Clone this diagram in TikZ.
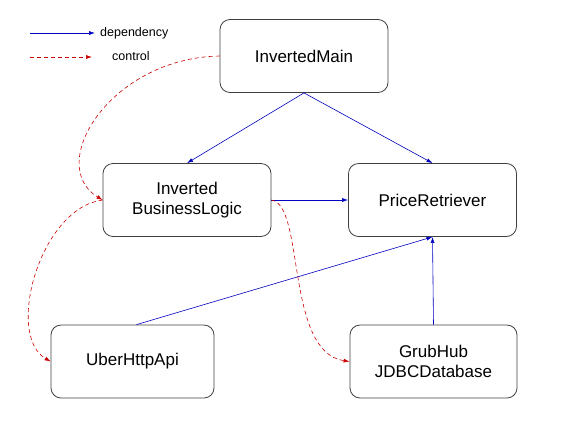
\documentclass[tikz,border=0pt]{standalone}
\usepackage{fontspec}
\setmainfont{Liberation Sans}
\usetikzlibrary{positioning,arrows.meta}

\begin{document}
\begin{tikzpicture}[x=1pt,y=-1pt,
  box/.style={draw=black!75,thick,rounded corners=10pt,minimum width=168pt,minimum height=73pt,
    align=center,font=\fontsize{17}{20}\selectfont,inner sep=0pt},
  dep/.style={draw=blue!75!black,semithick,-{Latex[length=6pt,width=4pt]}},
  ctl/.style={draw=red!80!black,semithick,dashed,dash pattern=on 4pt off 3pt,-{Latex[length=6pt,width=4pt]}},
  lab/.style={font=\fontsize{12.5}{14}\selectfont,anchor=west,inner sep=0pt}]
\useasboundingbox (0,0) rectangle (572,429);
% legend
\coordinate (d1) at (30,33); \coordinate (d2) at (95,33);
\coordinate (c1) at (30,57); \coordinate (c2) at (92,57);
\draw[dep] (d1)--(d2);
\node[lab] (ldep) at (100,33) {dependency};
\draw[ctl] (c1)--(c2);
\node[lab] (lctl) at (112,56) {control};
% boxes
\node[box] (main) at (304,56) {InvertedMain};
\node[box] (logic) at (187,200) {Inverted\\BusinessLogic};
\node[box] (price) at (432.5,200) {PriceRetriever};
\node[box,minimum width=163pt] (uber) at (132.5,361.5) {UberHttpApi};
\node[box,minimum width=167pt] (grub) at (433.5,361.5) {GrubHub\\JDBCDatabase};
% dependencies
\draw[dep] (main.south)--(logic.north);
\draw[dep] (main.south)--(price.north);
\draw[dep] (logic.east)--(price.west);
\draw[dep] ([xshift=4pt]uber.north)--(price.south);
\draw[dep] (grub.north)--(price.south);
% control flow
\draw[ctl] (main.west) .. controls (110,58) and (45,165) .. (logic.west);
\draw[ctl] (logic.west) .. controls (40,208) and (5,335) .. (uber.west);
\draw[ctl] (logic.east) .. controls (305,205) and (285,352) .. (grub.west);
\end{tikzpicture}
\end{document}
